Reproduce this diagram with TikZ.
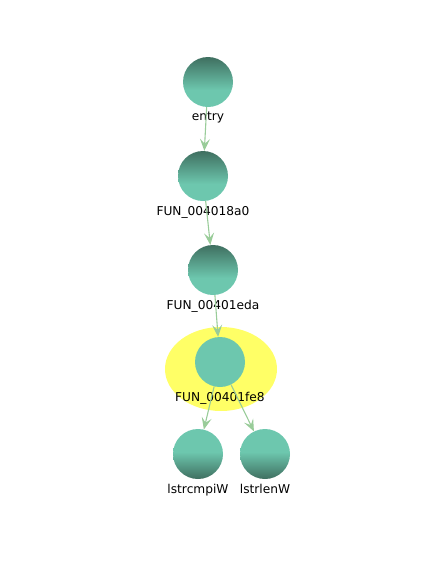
\documentclass[tikz,border=0pt]{standalone}
\usepackage{fontspec}
\setsansfont{DejaVu Sans}
\usetikzlibrary{arrows.meta}

\definecolor{nodedark}{HTML}{3F6F60}
\definecolor{nodelight}{HTML}{6DC7AE}
\definecolor{edgegreen}{HTML}{99CC99}
\definecolor{hilite}{HTML}{FFFF66}

% shadings: dark top, or dark bottom
\pgfdeclareverticalshading{darktop}{100bp}{color(0bp)=(nodelight); color(25bp)=(nodelight);
  color(42bp)=(nodelight); color(75bp)=(nodedark); color(100bp)=(nodedark)}
\pgfdeclareverticalshading{darkbottom}{100bp}{color(0bp)=(nodedark); color(25bp)=(nodedark);
  color(52bp)=(nodelight); color(75bp)=(nodelight); color(100bp)=(nodelight)}

\tikzset{
  fn/.style={circle, minimum size=50pt, inner sep=0pt,
    label={[font=\sffamily\fontsize{12.2}{14}\selectfont, inner sep=0pt,
      label distance=5pt]below:#1}},
  fntop/.style={fn=#1, shading=darktop},
  fnbottom/.style={fn=#1, shading=darkbottom},
  fnflat/.style={fn=#1, fill=nodelight},
  call/.style={draw=edgegreen, line width=1.1pt,
    -{Stealth[length=12pt, width=10pt, inset=5pt]}}
}

\begin{document}
\begin{tikzpicture}[x=1pt, y=-1pt]
  \useasboundingbox (0,0) rectangle (427,576);

  % Highlight of the selected function
  \fill[hilite] (221,369) ellipse[x radius=56, y radius=42];

  % Functions
  \node[fntop=entry] (entry) at (208,82) {};
  \node[fntop=FUN\_004018a0] (f18a0) at (203,176) {};
  \node[fntop=FUN\_00401eda] (f1eda) at (213,270) {};
  \node[fnflat=FUN\_00401fe8] (f1fe8) at (220,362) {};
  \node[fnbottom=lstrcmpiW] (cmpi) at (198,454) {};
  \node[fnbottom=lstrlenW] (len) at (265,454) {};

  % Calls
  \draw[call] (entry) -- (f18a0);
  \draw[call] (f18a0) -- (f1eda);
  \draw[call] (f1eda) -- (f1fe8);
  \draw[call] (f1fe8) -- (cmpi);
  \draw[call] (f1fe8) -- (len);

\end{tikzpicture}
\end{document}
